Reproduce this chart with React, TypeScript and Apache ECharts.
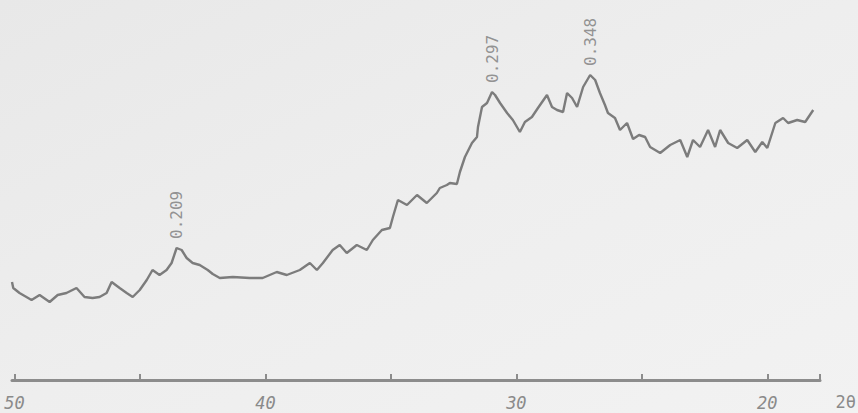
import React, { useEffect, useRef } from "react";
import * as echarts from "echarts";

// 2θ (degrees), left to right
const twoTheta: number[] = [
  50.1, 50.05, 49.8, 49.32, 49.0, 48.6, 48.28, 47.93, 47.53, 47.21, 46.89, 46.61, 46.33, 46.13,
  45.81, 45.53, 45.29, 45.01, 44.73, 44.5, 44.22, 43.94, 43.74, 43.54, 43.34, 43.14, 42.9, 42.62,
  42.3, 42.1, 41.82, 41.3, 40.63, 40.11, 39.55, 39.15, 38.63, 38.23, 37.95, 37.71, 37.32, 37.04,
  36.76, 36.36, 35.96, 35.72, 35.36, 35.04, 34.92, 34.72, 34.36, 33.96, 33.57, 33.17, 33.05, 32.77,
  32.65, 32.37, 32.25, 32.05, 31.77, 31.57, 31.53, 31.37, 31.17, 30.97, 30.85, 30.65, 30.37, 30.14,
  29.86, 29.66, 29.38, 29.14, 28.78, 28.58, 28.38, 28.14, 27.98, 27.78, 27.58, 27.34, 27.06, 26.86,
  26.67, 26.47, 26.35, 26.07, 25.87, 25.59, 25.35, 25.11, 24.87, 24.67, 24.27, 23.87, 23.47, 23.19,
  22.96, 22.68, 22.36, 22.08, 21.88, 21.56, 21.2, 20.8, 20.48, 20.2, 20.0, 19.68, 19.37, 19.17,
  18.81, 18.49, 18.17,
];

// intensity (arbitrary units)
const intensity: number[] = [
  98, 92, 87, 80, 85, 78, 85, 87, 92, 83, 82, 83, 87, 98,
  92, 87, 83, 90, 100, 110, 105, 110, 117, 132, 130, 122, 117, 115,
  110, 106, 102, 103, 102, 102, 108, 105, 110, 117, 110, 117, 130, 135,
  127, 135, 130, 140, 150, 152, 163, 180, 175, 185, 177, 187, 192, 195,
  197, 196, 208, 223, 237, 243, 253, 273, 277, 288, 285, 277, 267, 260,
  248, 258, 263, 272, 285, 273, 270, 268, 287, 282, 273, 293, 305, 300,
  287, 275, 267, 262, 250, 257, 241, 245, 243, 233, 227, 235, 240, 223,
  240, 233, 250, 233, 250, 237, 232, 240, 228, 238, 232, 257, 262, 257,
  260, 258, 270,
];

// labelled peaks (d-spacing, nm)
const peakTheta: number[] = [43.54, 30.97, 27.06];
const peakIntensity: number[] = [132, 288, 305];
const peakLabels: string[] = ["0.209", "0.297", "0.348"];

const tickValues: number[] = [50, 45, 40, 35, 30, 25, 20, 17.9];
const labelValues: number[] = [50, 40, 30, 20];
const axisName = "2θ";

export default function App() {
  const ref = useRef<HTMLDivElement>(null);

  useEffect(() => {
    if (!ref.current) return;
    const chart = echarts.init(ref.current, null, { renderer: "svg" });
    const lineData = twoTheta.map((t, i) => [t, intensity[i]]);
    const peakData = peakTheta.map((t, i) => ({ value: [t, peakIntensity[i]], name: peakLabels[i] }));

    chart.setOption({
      animation: false,
      backgroundColor: {
        type: "linear",
        x: 0,
        y: 0,
        x2: 1,
        y2: 1,
        colorStops: [
          { offset: 0, color: "#e8e8e8" },
          { offset: 0.5, color: "#eeeeee" },
          { offset: 1, color: "#f2f2f2" },
        ],
      },
      grid: { left: 12, right: 38, top: 0, bottom: 33 },
      xAxis: {
        type: "value",
        inverse: true,
        min: 17.9,
        max: 50.1,
        axisLine: { show: true, lineStyle: { color: "#8c8c8c", width: 3 } },
        axisTick: {
          show: true,
          inside: true,
          length: 6,
          customValues: tickValues,
          lineStyle: { color: "#8c8c8c", width: 2 },
        },
        axisLabel: {
          customValues: labelValues,
          color: "#8a8a8a",
          fontSize: 17,
          fontStyle: "italic",
          fontFamily: "DejaVu Sans Mono",
          margin: 14,
        },
        splitLine: { show: false },
      },
      yAxis: {
        type: "value",
        min: 0,
        max: 380,
        show: false,
      },
      graphic: [
        {
          type: "text",
          right: 2,
          top: 393,
          style: {
            text: axisName,
            fill: "#8a8a8a",
            fontSize: 17,
            fontFamily: "DejaVu Sans Mono",
          },
        },
      ],
      series: [
        {
          type: "line",
          data: lineData,
          symbol: "none",
          lineStyle: { color: "#7c7c7c", width: 2.4 },
        },
        {
          type: "scatter",
          data: peakData,
          symbolSize: 0,
          label: {
            show: true,
            formatter: (p: any) => p.name,
            position: "top",
            distance: 9,
            rotate: 90,
            align: "left",
            verticalAlign: "middle",
            color: "#7a7a7a",
            fontSize: 16,
            fontFamily: "DejaVu Sans Mono",
          },
        },
      ],
    });
    return () => chart.dispose();
  }, []);

  return (
    <div
      ref={ref}
      style={{ position: "absolute", left: 0, top: 0, width: 858, height: 413 }}
    />
  );
}
